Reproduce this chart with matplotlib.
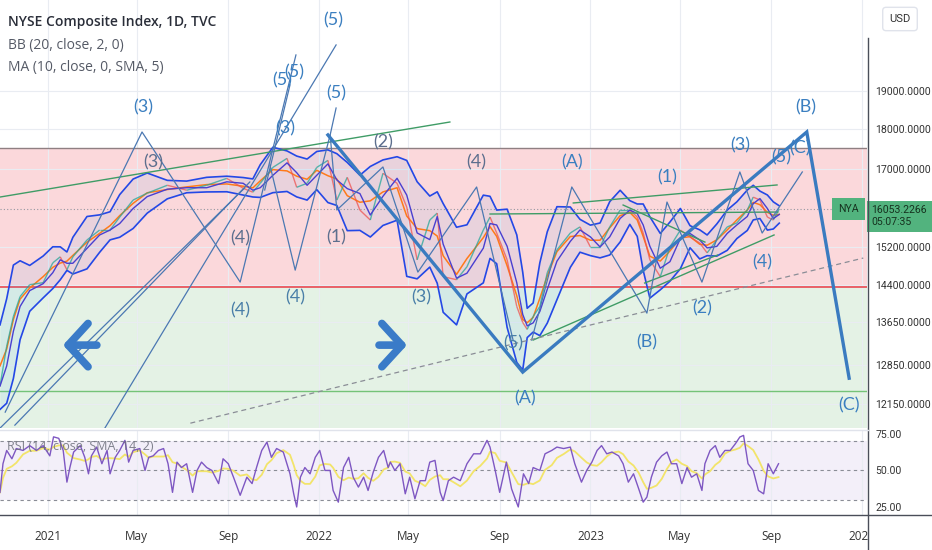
import numpy as np
import pandas as pd
import matplotlib
matplotlib.use("Agg")
import matplotlib.pyplot as plt
import matplotlib.dates as mdates
import matplotlib.transforms as mtrans
from matplotlib.collections import LineCollection
from matplotlib.ticker import FixedLocator, NullLocator, FuncFormatter
from matplotlib.patches import Rectangle
from matplotlib.lines import Line2D

plt.rcParams['font.family'] = ['Open Sans', 'DejaVu Sans']

price_dates = [
    "2020-10-29", "2020-11-07", "2020-11-16", "2020-11-25", "2020-12-08", "2020-12-26",
    "2021-01-08", "2021-01-18", "2021-01-27", "2021-02-04", "2021-02-23", "2021-03-12",
    "2021-03-26", "2021-04-08", "2021-04-26", "2021-05-15", "2021-06-11", "2021-07-07",
    "2021-08-03", "2021-08-30", "2021-09-21", "2021-10-04", "2021-10-14", "2021-10-31",
    "2021-11-19", "2021-12-02", "2021-12-16", "2021-12-29", "2022-01-13", "2022-01-25",
    "2022-02-08", "2022-02-25", "2022-03-11", "2022-03-28", "2022-04-16", "2022-04-29",
    "2022-05-13", "2022-05-30", "2022-06-09", "2022-06-17", "2022-07-05", "2022-07-19",
    "2022-08-10", "2022-08-19", "2022-08-28", "2022-09-11", "2022-09-24", "2022-10-02",
    "2022-10-08", "2022-10-16", "2022-10-25", "2022-11-04", "2022-11-17", "2022-12-05",
    "2022-12-18", "2023-01-01", "2023-01-14", "2023-01-27", "2023-02-10", "2023-02-23",
    "2023-03-05", "2023-03-13", "2023-03-22", "2023-04-05", "2023-04-18", "2023-05-02",
    "2023-05-15", "2023-05-28", "2023-06-07", "2023-06-20", "2023-07-04", "2023-07-17",
    "2023-07-31", "2023-08-08", "2023-08-17", "2023-08-27", "2023-09-04", "2023-09-12"]
closes = [
    12464, 13193, 13766, 14163, 14406, 14447,
    14862, 14990, 14716, 14990, 15355, 15575,
    15575, 15866, 16256, 16417, 16603, 16486,
    16603, 16767, 16532, 16440, 16650, 17032,
    17253, 16555, 16650, 17032, 17203, 16256,
    16791, 16025, 15799, 16888, 16650, 16094,
    14926, 15799, 15956, 14571, 14509, 14779,
    15575, 15866, 15509, 14926, 13964, 13649,
    13515, 13766, 13964, 14654, 15140, 15509,
    15644, 15203, 15203, 15644, 16025, 16025,
    15866, 15509, 14926, 14571, 15203, 15575,
    15421, 15290, 15075, 15355, 15644, 15733,
    16025, 16324, 16256, 15866, 15799, 16053]
last_price = 16053.2266

# ---- RSI (days counted from 2021-01-01) ----
rsi_day = [
    -64, -60, -55, -48, -42, -33, -24, -15, -6, 3,
    8, 15, 21, 26, 30, 35, 44, 50, 55, 59,
    66, 73, 80, 84, 91, 97, 104, 109, 115, 124,
    131, 136, 142, 149, 156, 162, 168, 174, 180, 187,
    195, 201, 207, 214, 221, 230, 236, 243, 250, 259,
    268, 275, 281, 288, 295, 301, 308, 317, 326, 331,
    335, 340, 346, 353, 360, 366, 373, 380, 384, 391,
    398, 405, 411, 418, 425, 431, 438, 445, 452, 458,
    461, 467, 474, 481, 487, 494, 501, 508, 514, 521,
    528, 532, 539, 546, 555, 564, 573, 582, 591, 595,
    602, 608, 617, 624, 633, 640, 647, 653, 662, 669,
    678, 685, 694, 703, 709, 718, 725, 732, 739, 745,
    752, 759, 768, 774, 781, 788, 795, 801, 806, 812,
    819, 826, 833, 839, 846, 853, 860, 866, 873, 880,
    884, 891, 898, 904, 911, 918, 925, 931, 936, 942,
    949, 956, 963, 969, 976, 983]
rsi_vals = [
    35, 54.6, 63.7, 58, 65, 63.7, 67, 63.7, 67, 60,
    73, 72, 63.7, 42, 52, 62.6, 67, 59, 47.7, 60,
    66, 54.6, 63.7, 47.7, 59, 63.7, 70.6, 55.7, 63.7, 65,
    50, 59, 60, 63.7, 65, 54.6, 35, 55.7, 52, 54.6,
    35, 50, 55.7, 52, 50, 41, 58, 54.6, 45.4, 33,
    45.4, 41, 52, 63.7, 69.4, 59, 65, 62.6, 47.7, 34,
    25, 45.4, 52, 47.7, 59, 63.7, 50, 50, 36.3, 28.3,
    52, 59, 45.4, 38.6, 45.4, 36.3, 48.9, 59, 63.7, 52,
    55.7, 50, 54.6, 34, 45.4, 30.6, 43, 43, 55.7, 56.9,
    35, 29.4, 43, 45.4, 43, 54.6, 61.4, 61.4, 70.6, 66,
    50, 35, 55.7, 37.4, 25, 47.7, 41, 52, 50, 61.4,
    63.7, 66, 65, 66, 54.6, 42, 50, 55.7, 63.7, 67,
    61.4, 62.6, 60, 54.6, 42, 47.7, 37.4, 28.3, 31.8, 45.4,
    55.7, 60, 62.6, 54.6, 54.6, 41, 52, 45.4, 47.7, 36.3,
    54.6, 63.7, 67, 59, 63.7, 63.7, 68.3, 72.9, 74, 54.6,
    50, 36.3, 34, 54.6, 47.7, 54.6]

# ---- drawings (date, price) ----
thick_wave = [("2022-01-13", 17839), ("2022-10-02", 12716),
              ("2023-10-19", 17915), ("2023-12-15", 12605)]
thin_waves = [
    [("2020-11-05", 12009), ("2021-05-08", 17915), ("2021-09-17", 14459), ("2021-12-01", 19998)],
    [("2020-10-29", 11738), ("2021-09-23", 16538)],
    [("2020-11-18", 11788), ("2021-09-30", 16681)],
    [("2021-03-19", 11738), ("2022-01-24", 20286)],
    [("2021-10-20", 16491), ("2021-11-23", 19160)],
    [("2022-01-16", 17839), ("2022-01-24", 18539)],
    [("2021-10-27", 17090), ("2021-11-30", 14708), ("2022-01-16", 17839), ("2022-01-25", 16026),
     ("2022-03-28", 17042), ("2022-05-14", 14667), ("2022-08-01", 16562), ("2022-09-19", 13311)],
    [("2022-10-14", 13311), ("2022-12-07", 16562), ("2023-03-18", 13833), ("2023-04-14", 16210),
     ("2023-05-31", 14459), ("2023-07-21", 16921), ("2023-08-20", 15508), ("2023-10-13", 16921)],
]
green_lines = [
    [("2020-10-29", 16326), ("2022-06-26", 18172)],
    [("2022-08-19", 15935), ("2023-09-10", 15980)],
    [("2022-12-09", 16188), ("2023-09-09", 16610)],
    [("2022-10-16", 13311), ("2023-09-05", 15465)],
    [("2023-02-14", 16141), ("2023-06-04", 15309)],
    [("2023-03-15", 14440), ("2023-06-21", 15028)],
]
dashed_line = [("2021-07-12", 11821), ("2024-01-03", 14964)]
arrows = [(("2021-03-12", 13215), ("2021-01-18", 13215)),
          (("2022-03-19", 13215), ("2022-05-03", 13215))]

wave_labels = [
    ("(3)", "2021-05-09", 18565, "b"), ("(3)", "2021-05-23", 17164, "m"),
    ("(5)", "2022-01-20", 21023, "b"), ("(5)", "2021-11-29", 19517, "b"),
    ("(5)", "2021-11-13", 19296, "b"), ("(3)", "2021-11-16", 18018, "b"),
    ("(5)", "2022-01-24", 18942, "b"), ("(2)", "2022-03-28", 17661, "m"),
    ("(4)", "2021-09-17", 15398, "m"), ("(4)", "2021-09-17", 13893, "t"),
    ("(4)", "2021-11-30", 14152, "t"), ("(1)", "2022-01-24", 15420, "m"),
    ("(3)", "2022-05-18", 14152, "t"), ("(4)", "2022-07-31", 17164, "m"),
    ("(5)", "2022-09-19", 13252, "t"), ("(A)", "2022-10-05", 12251, "b"),
    ("(A)", "2022-12-07", 17164, "b"), ("(1)", "2023-04-14", 16800, "b"),
    ("(B)", "2023-03-18", 13272, "b"), ("(2)", "2023-05-31", 13932, "b"),
    ("(3)", "2023-07-21", 17585, "b"), ("(4)", "2023-08-20", 14879, "b"),
    ("(5)", "2023-09-15", 17287, "b"), ("(C)", "2023-10-10", 17509, "b"),
    ("(B)", "2023-10-18", 18565, "b"), ("(C)", "2023-12-15", 12129, "b"),
]
label_colors = {"b": "#3b7fc0", "m": "#5d6f8e", "t": "#4a7fa8"}

price_ticks = [19000, 18000, 17000, 15200, 14400, 13650, 12850, 12150]
rsi_ticks = [75, 50, 25]
xtick_dates = ["2021-01-01", "2021-05-01", "2021-09-01", "2022-01-01", "2022-05-01",
               "2022-09-01", "2023-01-01", "2023-05-01", "2023-09-01", "2024-01-01"]
xtick_labels = ["2021", "May", "Sep", "2022", "May", "Sep", "2023", "May", "Sep", "2024"]

zone_red = (14350, 17500)
green_level = 12380

# ---------------------------------------------------------------
W, H = 932, 550
fig = plt.figure(figsize=(W / 100, H / 100), dpi=100)
fig.patch.set_facecolor("white")
scale_font = ["Roboto", "DejaVu Sans"]


def fx(px):
    return px / W


def fy(py):
    return 1 - py / H


ax = fig.add_axes([0, fy(428), fx(867), 428 / H])
rx = fig.add_axes([0, fy(515), fx(867), (515 - 430) / H], sharex=ax)

s = pd.Series(closes, index=pd.to_datetime(price_dates), dtype=float)
basis = s.rolling(3, center=True, min_periods=2).mean()
dev = s.rolling(4, center=True, min_periods=2).std()
upper = basis + 1.5 * dev
lower = basis - 1.5 * dev
ma = s.rolling(2, center=True, min_periods=1).mean()

ax.set_yscale("log")
ax.set_ylim(11740, 21630)
ax.set_xlim(pd.Timestamp("2020-10-29"), pd.Timestamp("2024-01-08"))

# zones
ax.axhspan(zone_red[0], zone_red[1], color="#fbd8db", zorder=0, lw=0)
ax.axhspan(1000, zone_red[0], color="#e4f2e5", zorder=0, lw=0)
ax.axhline(zone_red[1], color="#8f7f82", lw=1, zorder=1)
ax.axhline(zone_red[0], color="#e84a53", lw=1.2, zorder=1)
ax.axhline(green_level, color="#74c378", lw=1, zorder=1)

# grid
for d in xtick_dates:
    ax.axvline(pd.Timestamp(d), color="#e9ecf2", lw=0.8, zorder=0.5)
    rx.axvline(pd.Timestamp(d), color="#e9ecf2", lw=0.8, zorder=0.5)
for p in price_ticks:
    ax.axhline(p, color="#e9ecf2", lw=0.8, zorder=0.5)

# bollinger fill + lines
ax.fill_between(s.index, lower, upper, color="#2196f3", alpha=0.08, lw=0, zorder=2)
ax.plot(s.index, upper, color="#2448e6", lw=1.2, zorder=3)
ax.plot(s.index, lower, color="#2448e6", lw=1.2, zorder=3)
ax.plot(s.index, basis, color="#ff7a1a", lw=1.1, zorder=3)

# candles as coloured close path
xs = mdates.date2num(s.index.to_pydatetime())
segs = [[(xs[i], closes[i]), (xs[i + 1], closes[i + 1])] for i in range(len(xs) - 1)]
cols = ["#26a69a" if closes[i + 1] >= closes[i] else "#ef5350" for i in range(len(xs) - 1)]
ax.add_collection(LineCollection(segs, colors=cols, lw=1.0, alpha=0.75, zorder=3))
ax.plot(s.index, ma, color="#4a3fd0", lw=1.0, zorder=3)

# last price dotted line
ax.axhline(last_price, color="#9598a1", lw=0.8, ls=(0, (1, 2)), zorder=2)


def pts(seq):
    return [pd.Timestamp(d) for d, _ in seq], [v for _, v in seq]


for ln in green_lines:
    xx, yy = pts(ln)
    ax.plot(xx, yy, color="#3f9c66", lw=1.0, zorder=4)
for ln in thin_waves:
    xx, yy = pts(ln)
    ax.plot(xx, yy, color="#4b78b2", lw=0.9, zorder=4)
xx, yy = pts(dashed_line)
ax.plot(xx, yy, color="#8a8d96", lw=0.9, ls=(0, (4, 3)), zorder=4)
xx, yy = pts(thick_wave)
ax.plot(xx, yy, color="#3a7bc0", lw=2.4, zorder=5, solid_joinstyle="miter")

for (td, tv), (hd, hv) in arrows:
    ax.annotate("", xy=(pd.Timestamp(hd), hv), xytext=(pd.Timestamp(td), tv),
                arrowprops=dict(arrowstyle="->,head_length=0.55,head_width=0.6",
                                lw=5.5, color="#3a7bc8", mutation_scale=26),
                zorder=6)

for txt, d, v, c in wave_labels:
    ax.text(pd.Timestamp(d), v, txt, color=label_colors[c], fontsize=13,
            family=["Lato", "DejaVu Sans"], ha="center", va="center", zorder=6)

# price axis
ax.yaxis.tick_right()
ax.yaxis.set_major_locator(FixedLocator(price_ticks))
ax.yaxis.set_minor_locator(NullLocator())
ax.yaxis.set_major_formatter(FuncFormatter(lambda v, p: f"{v:.4f}"))
ax.tick_params(axis="y", length=0, pad=6, labelsize=7.6, labelcolor="#333333")
for t in ax.get_yticklabels():
    t.set_family(scale_font)
ax.tick_params(axis="x", length=0, labelbottom=False)
for sp in ax.spines.values():
    sp.set_visible(False)

# NYA + last price box
blend = mtrans.blended_transform_factory(ax.transAxes, ax.transData)
ax.text(0.979, last_price, "NYA", transform=blend, ha="center", va="center",
        fontsize=7.6, family=scale_font, color="#16321f", zorder=8,
        bbox=dict(boxstyle="square,pad=0.6", fc="#52b37e", ec="none"))
ax.text(1.005, 15880, "16053.2266\n05:07:35", transform=blend, ha="left",
        va="center", fontsize=7.6, family=scale_font, color="#16321f", zorder=8,
        clip_on=False, linespacing=1.25,
        bbox=dict(boxstyle="square,pad=0.45", fc="#52b37e", ec="none"))

# RSI pane
r = pd.Series(rsi_vals, index=pd.Timestamp("2021-01-01") + pd.to_timedelta(rsi_day, unit="D"),
              dtype=float)
r_ma = r.rolling(5, min_periods=1).mean()
rx.set_ylim(19.5, 77.7)
rx.axhspan(30, 70, color="#7e57c2", alpha=0.09, lw=0, zorder=0)
for lvl in (70, 50, 30):
    rx.axhline(lvl, color="#8a8d96", lw=0.8, ls=(0, (3, 3)), zorder=1)
rx.plot(r.index, r_ma, color="#f2e46a", lw=1.3, zorder=2)
rx.plot(r.index, r, color="#7e57c2", lw=1.0, zorder=3)
rx.yaxis.tick_right()
rx.yaxis.set_major_locator(FixedLocator(rsi_ticks))
rx.yaxis.set_major_formatter(FuncFormatter(lambda v, p: f"{v:.2f}"))
rx.tick_params(axis="y", length=0, pad=6, labelsize=7.6, labelcolor="#333333")
for t in rx.get_yticklabels():
    t.set_family(scale_font)
rx.set_xticks([pd.Timestamp(d) for d in xtick_dates])
rx.set_xticklabels(xtick_labels)
rx.tick_params(axis="x", length=0, pad=11, labelsize=8.5, labelcolor="#333333")
for sp in rx.spines.values():
    sp.set_visible(False)
rx.text(0.008, 0.8, "RSI (14, close, SMA, 14, 2)", transform=rx.transAxes,
        fontsize=9, color="#6a6d78", alpha=0.85, va="center", zorder=5)

# header
fig.text(fx(8), fy(22), "NYSE Composite Index, 1D, TVC", fontsize=10,
         fontweight="semibold", color="#2a2e39", va="center")
fig.text(fx(8), fy(45), "BB (20, close, 2, 0)", fontsize=10, color="#555a66", va="center")
fig.text(fx(8), fy(68), "MA (10, close, 0, SMA, 5)", fontsize=10, color="#555a66", va="center")
fig.text(fx(900), fy(19), "USD", fontsize=8, family=scale_font, color="#333333",
         ha="center", va="center",
         bbox=dict(boxstyle="round,pad=0.6,rounding_size=0.3", fc="white", ec="#e0e3eb"))

# frame lines / price-scale mask
fig.patches.append(Rectangle((fx(867.5), 0), 1 - fx(867.5), fy(515), transform=fig.transFigure,
                             fc="white", ec="none", zorder=9))
fig.lines.append(Line2D([fx(867.5), fx(867.5)], [fy(38), 0], transform=fig.transFigure,
                        color="#4a4e59", lw=1, zorder=10))
fig.lines.append(Line2D([0, 1], [fy(515), fy(515)], transform=fig.transFigure,
                        color="#4a4e59", lw=1, zorder=10))
fig.lines.append(Line2D([0, fx(867.5)], [fy(429.5), fy(429.5)], transform=fig.transFigure,
                        color="#e0e3eb", lw=1, zorder=10))

fig.savefig("out.png", dpi=100, facecolor="white")
